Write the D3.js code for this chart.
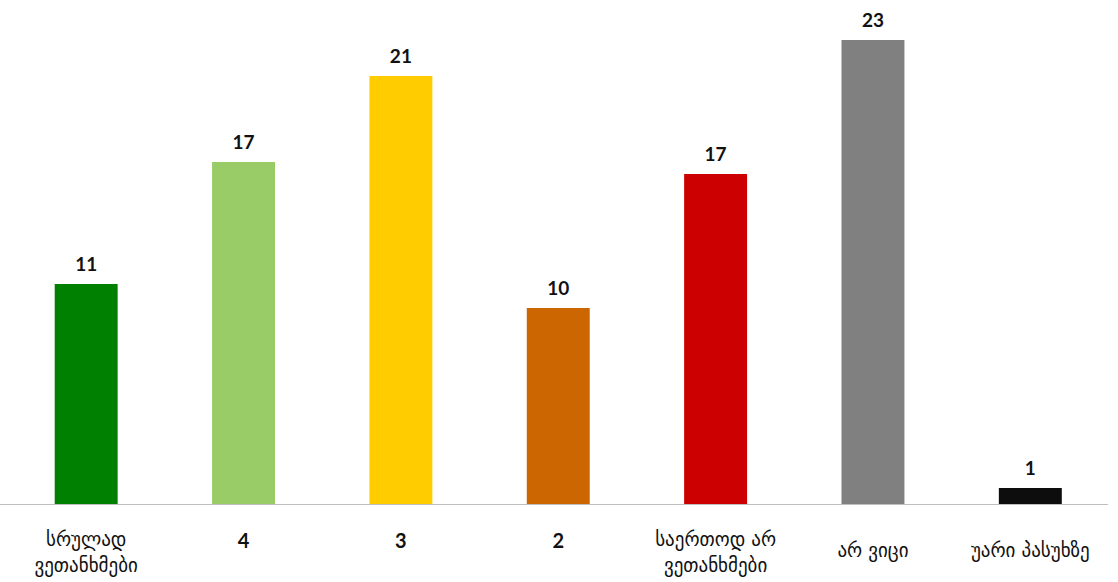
<!DOCTYPE html>
<html>
<head>
<meta charset="utf-8">
<script src="https://cdn.jsdelivr.net/npm/d3@7"></script>
<style>
  html, body { margin: 0; padding: 0; background: #ffffff; }
  svg { display: block; }
</style>
</head>
<body>
<svg id="chart" width="1118" height="582"></svg>
<script>
// ---- data ----
const categories = [
  ["სრულად", "ვეთანხმები"],
  ["4"],
  ["3"],
  ["2"],
  ["საერთოდ არ", "ვეთანხმები"],
  ["არ ვიცი"],
  ["უარი პასუხზე"]
];
const values = [11.0, 17.1, 21.4, 9.8, 16.5, 23.2, 0.8];
const valueLabels = ["11", "17", "21", "10", "17", "23", "1"];
const barColors = ["#008000", "#99cc66", "#ffcc00", "#cc6600", "#cc0000", "#808080", "#0d0d0d"];

// ---- layout ----
const W = 1118, H = 582;
const baseY = 504;
const svg = d3.select("#chart");

const x = d3.scaleBand()
  .domain(d3.range(values.length))
  .range([7.5, 1109])
  .paddingInner(0.6)
  .paddingOuter(0.3);

const y = d3.scaleLinear()
  .domain([0, 23.2])
  .range([baseY, 40]);

// bars
svg.append("g").selectAll("rect")
  .data(values)
  .join("rect")
  .attr("x", (d, i) => x(i))
  .attr("y", d => y(d))
  .attr("width", x.bandwidth())
  .attr("height", d => y(0) - y(d))
  .attr("fill", (d, i) => barColors[i]);

// axis line
svg.append("line")
  .attr("x1", 0).attr("x2", 1108)
  .attr("y1", baseY + 0.5).attr("y2", baseY + 0.5)
  .attr("stroke", "#bfbfbf").attr("stroke-width", 1.2);

// value labels
svg.append("g").selectAll("text")
  .data(values)
  .join("text")
  .attr("x", (d, i) => x(i) + x.bandwidth() / 2)
  .attr("y", d => y(d) - 13)
  .attr("text-anchor", "middle")
  .attr("font-family", "Lato, 'Open Sans', sans-serif")
  .attr("font-weight", "bold")
  .attr("font-size", 19)
  .attr("fill", "#111")
  .text((d, i) => valueLabels[i]);

// category labels
const lineH = 26;
const catG = svg.append("g");
categories.forEach((lines, i) => {
  const isNum = /^\d+$/.test(lines[0]);
  const cx = x(i) + x.bandwidth() / 2;
  const t = catG.append("text")
    .attr("text-anchor", "middle")
    .attr("font-family", isNum ? "Lato, 'Open Sans', sans-serif" : "'DejaVu Sans', sans-serif")
    .attr("font-weight", isNum ? "bold" : "normal")
    .attr("font-size", isNum ? 20 : 19)
    .attr("fill", "#111");
  const firstY = lines.length === 2 ? 546 : (isNum ? 548 : 557);
  lines.forEach((ln, j) => {
    t.append("tspan").attr("x", cx).attr("y", firstY + j * lineH).text(ln);
  });
  // keep label inside the picture
  const bb = t.node().getBBox();
  if (bb.x + bb.width > W - 2) {
    const shift = bb.x + bb.width - (W - 2);
    t.selectAll("tspan").attr("x", cx - shift);
  }
});
</script>
</body>
</html>
